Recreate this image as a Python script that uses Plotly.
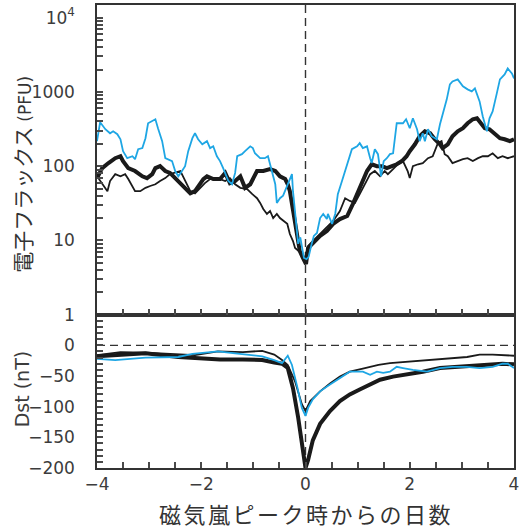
import plotly.graph_objects as go

# ---------------- data ----------------
# Electron flux (PFU), top panel
blue_flux_day = [-4.00, -3.94, -3.84, -3.75, -3.69, -3.61, -3.55, -3.50, -3.42, -3.32,
                 -3.27, -3.21, -3.13, -3.07, -3.02, -2.94, -2.88, -2.83, -2.75, -2.69,
                 -2.63, -2.56, -2.50, -2.44, -2.37, -2.31, -2.25, -2.17, -2.12, -2.06,
                 -1.98, -1.89, -1.83, -1.77, -1.70, -1.64, -1.58, -1.48, -1.41, -1.35,
                 -1.31, -1.22, -1.16, -1.06, -1.01, -0.97, -0.87, -0.78, -0.72, -0.64,
                 -0.58, -0.55, -0.49, -0.43, -0.34, -0.26, -0.24, -0.20, -0.16, -0.14,
                 -0.10, -0.07, -0.03, 0.02, 0.06, 0.11, 0.16, 0.22, 0.28, 0.34,
                 0.41, 0.43, 0.51, 0.57, 0.62, 0.70, 0.80, 0.89, 0.99, 1.04,
                 1.10, 1.18, 1.24, 1.27, 1.33, 1.39, 1.45, 1.50, 1.56, 1.62,
                 1.68, 1.75, 1.81, 1.87, 1.93, 1.96, 2.00, 2.06, 2.14, 2.19,
                 2.25, 2.29, 2.35, 2.42, 2.52, 2.58, 2.63, 2.71, 2.77, 2.82,
                 2.92, 3.02, 3.11, 3.19, 3.25, 3.29, 3.34, 3.40, 3.48, 3.53,
                 3.59, 3.67, 3.73, 3.82, 3.88, 3.96, 4.00]
blue_flux = [217, 390, 314, 277, 295, 269, 230, 159, 128, 136,
             124, 169, 175, 238, 378, 402, 428, 324, 217, 128,
             124, 117, 86, 73, 86, 100, 159, 238, 277, 230,
             197, 217, 175, 185, 136, 117, 94, 63, 57, 81,
             136, 145, 159, 185, 175, 149, 128, 128, 136, 86,
             57, 32, 37, 40, 57, 78, 46, 22.7, 13.4, 9.0,
             11, 8.0, 5.8, 5.6, 6.0, 8.5, 11.5, 12.6, 20, 22.7,
             19.4, 22.7, 16.7, 22.7, 42, 63, 106, 169, 185, 204,
             175, 185, 128, 110, 169, 145, 73, 117, 128, 145,
             149, 378, 378, 378, 428, 378, 324, 441, 314, 217,
             277, 217, 314, 253, 230, 366, 499, 793, 1262, 1384,
             1472, 1186, 1081, 1016, 1114, 926, 745, 469, 295, 441,
             547, 955, 1472, 1718, 2066, 1771, 1518]

thick_flux_day = [-4.00, -3.90, -3.78, -3.65, -3.55, -3.50, -3.40, -3.27, -3.13, -3.04,
                  -2.94, -2.88, -2.79, -2.69, -2.60, -2.50, -2.40, -2.31, -2.21, -2.12,
                  -2.02, -1.96, -1.89, -1.77, -1.64, -1.54, -1.45, -1.35, -1.25, -1.16,
                  -1.06, -0.93, -0.81, -0.68, -0.58, -0.49, -0.39, -0.34, -0.30, -0.27,
                  -0.24, -0.20, -0.16, -0.11, -0.05, 0.01, 0.05, 0.14, 0.28, 0.41,
                  0.53, 0.66, 0.80, 0.91, 1.01, 1.10, 1.18, 1.27, 1.37, 1.47,
                  1.56, 1.66, 1.75, 1.85, 1.94, 2.00, 2.10, 2.19, 2.29, 2.39,
                  2.48, 2.58, 2.63, 2.73, 2.82, 2.92, 3.02, 3.11, 3.21, 3.29,
                  3.34, 3.44, 3.53, 3.63, 3.73, 3.82, 3.92, 4.00]
thick_flux = [69, 94, 110, 128, 136, 117, 94, 86, 73, 69,
              78, 94, 100, 86, 81, 69, 59, 51, 43, 46,
              57, 67, 73, 67, 67, 81, 59, 63, 73, 51,
              57, 86, 86, 91, 86, 73, 67, 57, 46, 34,
              22, 16, 10.8, 7.2, 5.8, 4.8, 7.9, 9.3, 11.5, 13.4,
              16.7, 19.4, 21.3, 31, 46, 63, 86, 106, 100, 100,
              94, 100, 106, 117, 136, 159, 197, 253, 295, 277,
              230, 197, 175, 197, 253, 295, 324, 378, 428, 441,
              402, 324, 314, 277, 238, 230, 217, 230]

thin_flux_day = [-4.00, -3.90, -3.80, -3.75, -3.65, -3.55, -3.46, -3.40, -3.32, -3.27,
                 -3.17, -3.07, -2.98, -2.88, -2.79, -2.69, -2.60, -2.50, -2.40, -2.35,
                 -2.27, -2.21, -2.12, -2.02, -1.93, -1.83, -1.73, -1.64, -1.54, -1.45,
                 -1.35, -1.25, -1.12, -1.02, -0.93, -0.87, -0.81, -0.74, -0.68, -0.62,
                 -0.55, -0.49, -0.43, -0.35, -0.30, -0.24, -0.20, -0.14, -0.07, -0.01,
                 0.05, 0.14, 0.28, 0.41, 0.53, 0.66, 0.76, 0.85, 0.95, 1.04,
                 1.14, 1.24, 1.33, 1.43, 1.52, 1.58, 1.68, 1.77, 1.87, 1.96,
                 2.00, 2.06, 2.16, 2.25, 2.35, 2.44, 2.54, 2.61, 2.67, 2.73,
                 2.82, 2.92, 3.02, 3.11, 3.21, 3.31, 3.40, 3.50, 3.59, 3.69,
                 3.78, 3.88, 4.00]
thin_flux = [73, 59, 46, 63, 78, 73, 78, 67, 54, 46,
             46, 51, 54, 57, 63, 69, 78, 81, 86, 73,
             57, 46, 43, 51, 59, 67, 69, 67, 63, 69,
             57, 51, 49, 42, 37, 32, 26.5, 22.7, 24.9, 20,
             22.7, 20, 18.3, 16.7, 12.2, 9.8, 7.9, 7.2, 6.6, 5.8,
             8.4, 9.8, 12.2, 14.7, 18.3, 24.9, 37, 34, 32, 42,
             57, 78, 86, 73, 86, 78, 91, 106, 117, 86,
             69, 100, 106, 110, 128, 136, 204, 217, 145, 136,
             110, 117, 124, 128, 117, 128, 136, 136, 149, 128,
             136, 128, 136]

# Dst (nT), bottom panel
thick_dst_day = [-4.0, -3.65, -3.07, -2.44, -2.12, -1.64, -1.2, -0.83, -0.6, -0.45,
                 -0.34, -0.24, -0.14, -0.07, 0.0, 0.05, 0.14, 0.28, 0.47, 0.66,
                 0.85, 1.04, 1.24, 1.43, 1.68, 1.94, 2.25, 2.58, 2.90, 3.21,
                 3.53, 3.78, 4.0]
thick_dst = [-18, -16, -13, -19, -21, -23, -23, -24, -28, -30,
             -37, -70, -118, -160, -200, -187, -155, -128, -107, -91,
             -80, -72, -64, -56, -51, -48, -43, -37, -35, -32,
             -31, -30, -31]

thin_dst_day = [-4.0, -3.55, -3.07, -2.44, -2.12, -1.68, -1.2, -0.83, -0.6, -0.45,
                -0.34, -0.20, -0.07, 0.0, 0.09, 0.28, 0.47, 0.66, 0.85, 1.1,
                1.4, 1.62, 1.94, 2.33, 2.71, 3.1, 3.34, 3.59, 4.0]
thin_dst = [-16, -11, -12, -14, -16, -10, -11, -9, -15, -24,
            -32, -59, -96, -107, -91, -75, -62, -51, -43, -38,
            -32, -29, -27, -24, -22, -19, -15, -15, -17]

blue_dst_day = [-4.0, -3.65, -3.07, -2.44, -2.17, -1.68, -1.35, -0.83, -0.6, -0.45,
                -0.34, -0.26, -0.16, -0.07, 0.0, 0.05, 0.14, 0.28, 0.47, 0.66,
                0.85, 1.1, 1.24, 1.37, 1.49, 1.62, 1.75, 1.87, 2.06, 2.33,
                2.58, 2.82, 3.09, 3.34, 3.59, 3.78, 3.88, 4.0]
blue_dst = [-22, -24, -20, -19, -14, -10, -13, -18, -24, -29,
            -17, -32, -67, -102, -115, -102, -88, -75, -64, -54,
            -43, -43, -48, -43, -45, -43, -35, -37, -40, -43,
            -37, -35, -35, -37, -35, -30, -30, -37]

# tick positions / labels (major labelled, minor unlabelled)
flux_major = [1, 10, 100, 1000, 10000]
flux_major_text = ["1", "10", "100", "1000", "10<sup>4</sup>"]
flux_minor = [2, 3, 4, 5, 6, 7, 8, 9,
              20, 30, 40, 50, 60, 70, 80, 90,
              200, 300, 400, 500, 600, 700, 800, 900,
              2000, 3000, 4000, 5000, 6000, 7000, 8000, 9000]
dst_major = [-200, -150, -100, -50, 0]
dst_minor = [-190, -180, -170, -160, -140, -130, -120, -110,
             -90, -80, -70, -60, -40, -30, -20, -10, 10, 20, 30, 40]
x_major = [-4, -2, 0, 2, 4]
x_minor = [-3.5, -3, -2.5, -1.5, -1, -0.5, 0.5, 1, 1.5, 2.5, 3, 3.5]

# ---------------- style ----------------
BLUE = "#1ea6e4"
BLACK = "#1a1a1a"
AX = "#333333"
TICKC = "#4a4a4a"
TICKFONT = dict(family="DejaVu Sans", size=17, color="#3c3c3c")
GAP = "\u2002\u2002"  # spacing between y tick labels and axis


def merged(major, major_text, minor, suffix=""):
    vals = list(major) + list(minor)
    texts = [t + suffix for t in major_text] + [""] * len(minor)
    return vals, texts


fig = go.Figure()

# top panel (x2, y2)
fig.add_trace(go.Scatter(x=thick_flux_day, y=thick_flux, mode="lines",
                         line=dict(color=BLACK, width=4), xaxis="x2", yaxis="y2"))
fig.add_trace(go.Scatter(x=thin_flux_day, y=thin_flux, mode="lines",
                         line=dict(color=BLACK, width=1.8), xaxis="x2", yaxis="y2"))
fig.add_trace(go.Scatter(x=blue_flux_day, y=blue_flux, mode="lines",
                         line=dict(color=BLUE, width=1.8), xaxis="x2", yaxis="y2"))

# bottom panel (x, y)
fig.add_trace(go.Scatter(x=thick_dst_day, y=thick_dst, mode="lines",
                         line=dict(color=BLACK, width=4), xaxis="x", yaxis="y"))
fig.add_trace(go.Scatter(x=thin_dst_day, y=thin_dst, mode="lines",
                         line=dict(color=BLACK, width=1.8), xaxis="x", yaxis="y"))
fig.add_trace(go.Scatter(x=blue_dst_day, y=blue_dst, mode="lines",
                         line=dict(color=BLUE, width=1.8), xaxis="x", yaxis="y"))

split = 154 / 465

xv, xt = merged(x_major, [str(v).replace("-", "\u2212") for v in x_major], x_minor)
dv, dt = merged(dst_major, [str(v).replace("-", "\u2212") for v in dst_major],
                dst_minor, GAP)
fv, ft = merged(flux_major, flux_major_text, flux_minor, GAP)

common = dict(ticks="inside", ticklen=6, tickwidth=2, tickcolor=TICKC,
              showline=True, linecolor=AX, linewidth=1.5, mirror=True,
              showgrid=False, zeroline=False)

fig.update_layout(
    width=526, height=529,
    margin=dict(l=97, r=12, t=3, b=61),
    paper_bgcolor="white", plot_bgcolor="white",
    showlegend=False,
    xaxis=dict(**common, range=[-4, 4], tickmode="array", tickvals=xv,
               ticktext=xt, anchor="y", tickfont=TICKFONT),
    xaxis2=dict(**common, range=[-4, 4], tickmode="array", tickvals=xv,
                anchor="y2", showticklabels=False),
    yaxis=dict(**common, domain=[0, split], range=[-200, 50], tickmode="array",
               tickvals=dv, ticktext=dt, anchor="x", tickfont=TICKFONT),
    yaxis2=dict(**common, domain=[split, 1], type="log", range=[0, 4.17],
                tickmode="array", tickvals=fv, ticktext=ft, anchor="x2",
                tickfont=TICKFONT),
)

# dashed reference lines
fig.add_shape(type="line", xref="x", yref="paper", x0=0, x1=0, y0=0, y1=1,
              line=dict(color=AX, width=1.4, dash="8px,5px"), layer="below")
fig.add_shape(type="line", xref="paper", yref="y", x0=0, x1=1, y0=0, y1=0,
              line=dict(color=AX, width=1.4, dash="8px,5px"), layer="below")

# axis titles
fig.add_annotation(xref="paper", yref="paper", x=0, y=1 - (173.5 - 3) / 465,
                   xshift=-75, textangle=-90, showarrow=False,
                   xanchor="center", yanchor="middle",
                   text='電子フラックス <span style="font-family:DejaVu Sans;font-size:17px">(PFU)</span>',
                   font=dict(family="Noto Sans CJK JP", size=21, color="#333333"))
fig.add_annotation(xref="paper", yref="paper", x=0, y=1 - (389 - 3) / 465,
                   xshift=-75, textangle=-90, showarrow=False,
                   xanchor="center", yanchor="middle",
                   text="Dst (nT)",
                   font=dict(family="DejaVu Sans", size=19, color="#3c3c3c"))
fig.add_annotation(xref="paper", yref="paper", x=0.5, y=0, yshift=-45,
                   showarrow=False, xanchor="center", yanchor="middle",
                   text='<span style="letter-spacing:2.5px">磁気嵐ピーク時からの日数</span>',
                   font=dict(family="Noto Sans CJK JP", size=22, color="#333333"))

fig.write_html("out.html")
